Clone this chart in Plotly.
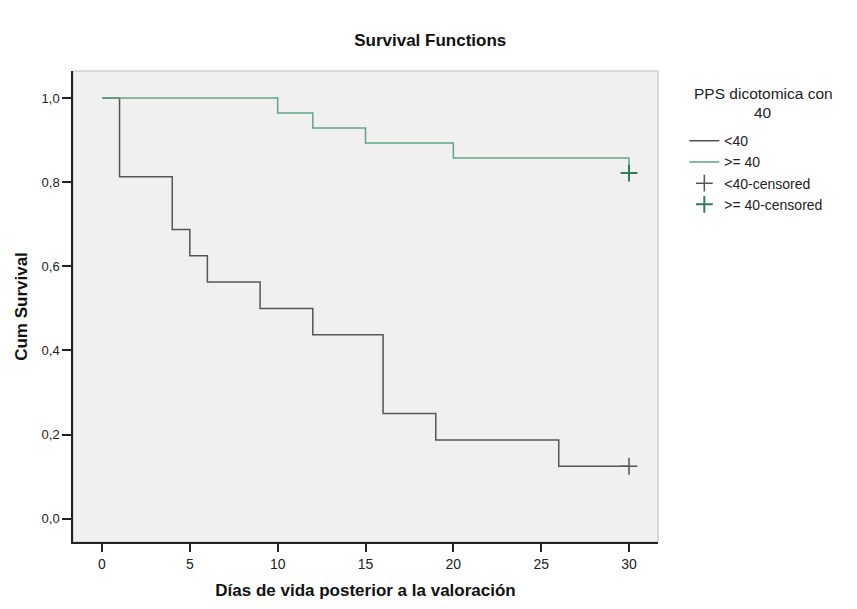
import plotly.graph_objects as go

# <40 group: event times and survival steps
low_times = [0, 1, 4, 5, 6, 9, 12, 16, 19, 26, 30]
low_surv = [1.0, 0.8125, 0.6875, 0.625, 0.5625, 0.5, 0.4375, 0.25, 0.1875, 0.125, 0.125]
low_cens_t = [30]
low_cens_s = [0.125]

# >=40 group
high_times = [0, 10, 12, 15, 20, 30]
high_surv = [1.0, 0.9643, 0.9286, 0.8929, 0.8571, 0.8214]
high_cens_t = [30]
high_cens_s = [0.8214]

x_ticks = [0, 5, 10, 15, 20, 25, 30]
y_ticks = [0.0, 0.2, 0.4, 0.6, 0.8, 1.0]

FONT = "Liberation Sans, Arial, sans-serif"
dark = "#555555"
green = "#5fa585"
green_dark = "#2f7d57"

fig = go.Figure()
fig.add_trace(go.Scatter(x=low_times, y=low_surv, mode="lines", line=dict(shape="hv", color=dark, width=1.5),
                         name="<40"))
fig.add_trace(go.Scatter(x=high_times, y=high_surv, mode="lines", line=dict(shape="hv", color=green, width=1.5),
                         name=">= 40"))
fig.add_trace(go.Scatter(x=low_cens_t, y=low_cens_s, mode="markers",
                         marker=dict(symbol="cross-thin-open", size=12, color=dark, line=dict(width=1.5, color=dark)),
                         name="<40-censored"))
fig.add_trace(go.Scatter(x=high_cens_t, y=high_cens_s, mode="markers",
                         marker=dict(symbol="cross-thin-open", size=12, color=green_dark, line=dict(width=2, color=green_dark)),
                         name=">= 40-censored"))

fig.update_layout(
    width=857, height=609,
    margin=dict(l=73, r=199, t=71, b=67),
    paper_bgcolor="white",
    plot_bgcolor="#f0f0f0",
    separators=",.",
    font=dict(family=FONT, size=13, color="#222222"),
    title=dict(text="<b>Survival Functions</b>", x=0.502, xanchor="center", y=0.935, yanchor="middle",
               font=dict(family=FONT, size=17, color="#111111")),
    xaxis=dict(range=[-1.65, 31.65], tickvals=x_ticks, ticks="outside", ticklen=8, tickwidth=1.5, tickcolor="#222",
               showline=True, linecolor="#222", linewidth=1.5, showgrid=False, zeroline=False,
               tickfont=dict(size=14, color="#222"),
               title=dict(text="<b>Días de vida posterior a la valoración</b>", font=dict(size=17, color="#111"), standoff=14)),
    yaxis=dict(range=[-0.055, 1.064], tickvals=y_ticks, tickformat=".1f", ticks="outside", ticklen=9, tickwidth=1.5,
               tickcolor="#222", showline=True, linecolor="#222", linewidth=1.5, showgrid=False, zeroline=False,
               tickfont=dict(size=13, color="#222"),
               title=dict(text="<b>Cum Survival</b>", font=dict(size=17, color="#111"), standoff=10)),
    legend=dict(x=1.045, y=0.885, xanchor="left", yanchor="top", bgcolor="rgba(0,0,0,0)",
                font=dict(size=14, color="#222"), tracegroupgap=0, itemwidth=30),
    showlegend=True,
)
fig.add_shape(type="rect", xref="paper", yref="paper", x0=0, y0=0, x1=1, y1=1,
              line=dict(color="#bbbbbb", width=1), fillcolor="rgba(0,0,0,0)", layer="below")
fig.add_annotation(text="PPS dicotomica con", xref="paper", yref="paper", x=1.18, y=0.953,
                   xanchor="center", yanchor="middle", showarrow=False,
                   font=dict(size=15.5, color="#222"))
fig.add_annotation(text="40", xref="paper", yref="paper", x=1.18, y=0.911,
                   xanchor="center", yanchor="middle", showarrow=False,
                   font=dict(size=15.5, color="#222"))

fig.write_html("out.html")
